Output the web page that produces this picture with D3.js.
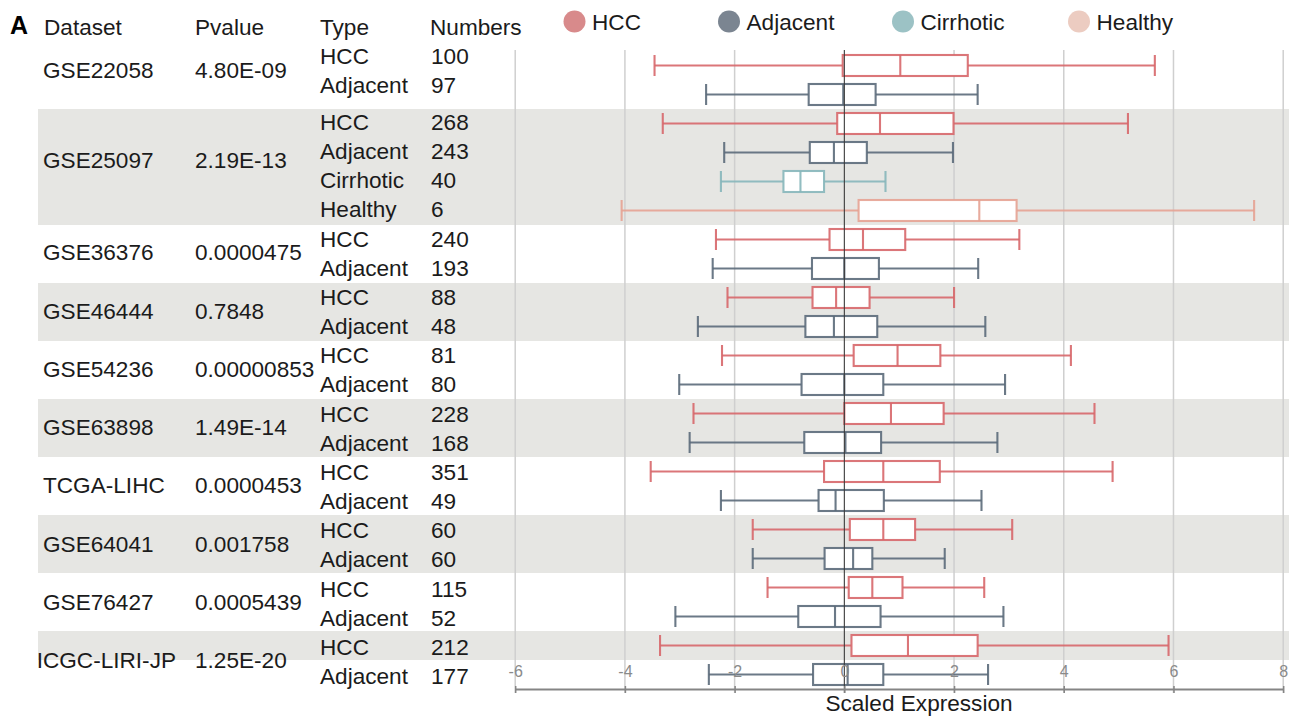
<!DOCTYPE html>
<html>
<head>
<meta charset="utf-8">
<script src="https://cdn.jsdelivr.net/npm/d3@7"></script>
<style>
  html, body { margin: 0; padding: 0; background: #fff; }
  svg { display: block; font-family: 'Liberation Sans', Arial, Helvetica, sans-serif; }
</style>
</head>
<body>
<svg id="chart" width="1289" height="717"></svg>
<script>
// ---- data ----
const datasets = ["GSE22058", "GSE25097", "GSE36376", "GSE46444", "GSE54236",
                  "GSE63898", "TCGA-LIHC", "GSE64041", "GSE76427", "ICGC-LIRI-JP"];
const pvalues = ["4.80E-09", "2.19E-13", "0.0000475", "0.7848", "0.00000853",
                 "1.49E-14", "0.0000453", "0.001758", "0.0005439", "1.25E-20"];
const groupTypes = [
  ["HCC", "Adjacent"],
  ["HCC", "Adjacent", "Cirrhotic", "Healthy"],
  ["HCC", "Adjacent"], ["HCC", "Adjacent"], ["HCC", "Adjacent"],
  ["HCC", "Adjacent"], ["HCC", "Adjacent"], ["HCC", "Adjacent"],
  ["HCC", "Adjacent"], ["HCC", "Adjacent"]
];
const sampleCounts = [
  [100, 97], [268, 243, 40, 6], [240, 193], [88, 48], [81, 80],
  [228, 168], [351, 49], [60, 60], [115, 52], [212, 177]
];
// box statistics, one entry per row (top to bottom)
const whiskerLow  = [-3.46, -2.52, -3.31, -2.19, -2.25, -4.06, -2.34, -2.40, -2.13, -2.67, -2.23,
                     -3.01, -2.75, -2.82, -3.53, -2.25, -1.67, -1.67, -1.40, -3.08, -3.36, -2.47];
const quartile1   = [-0.03, -0.65, -0.13, -0.63, -1.11,  0.26, -0.27, -0.59, -0.58, -0.71,  0.17,
                     -0.78,  0.00, -0.73, -0.37, -0.47,  0.10, -0.36,  0.08, -0.84,  0.13, -0.57];
const medians     = [ 1.02, -0.02,  0.65, -0.19, -0.80,  2.46,  0.34,  0.00, -0.15, -0.19,  0.97,
                      0.00,  0.85,  0.02,  0.71, -0.16,  0.71,  0.16,  0.51, -0.17,  1.16,  0.06];
const quartile3   = [ 2.25,  0.57,  1.99,  0.41, -0.37,  3.14,  1.11,  0.63,  0.46,  0.60,  1.75,
                      0.71,  1.81,  0.67,  1.74,  0.72,  1.29,  0.51,  1.06,  0.66,  2.43,  0.71];
const whiskerHigh = [ 5.66,  2.43,  5.17,  1.98,  0.75,  7.47,  3.19,  2.44,  2.00,  2.57,  4.13,
                      2.93,  4.56,  2.79,  4.89,  2.50,  3.06,  1.83,  2.55,  2.90,  5.91,  2.62];
const legendTypes = ["HCC", "Adjacent", "Cirrhotic", "Healthy"];
const xTicks = [-6, -4, -2, 0, 2, 4, 6, 8];
const headers = ["Dataset", "Pvalue", "Type", "Numbers"];

// ---- styles ----
const strokeColor = { HCC: "#d7676a", Adjacent: "#5b6a7a", Cirrhotic: "#86b6ba", Healthy: "#e5a292" };
const legendColor = { HCC: "#d88a8b", Adjacent: "#7b8591", Cirrhotic: "#9cc2c5", Healthy: "#ecccc1" };
const bandColor = "#e6e6e3";
const textColor = "#1b1b1b";
const fontSize = 22.6;

// ---- layout ----
const W = 1289;
const colX = { dataset: 43, pvalue: 195, type: 320, number: 431 };
const legendX = [574.5, 729, 903, 1079];
const plotTop = 50, plotBottom = 693, axisY = 689, bandClip = 660;
const boxH = 21, rowHalf = 14.5;

const rows = [];
groupTypes.forEach((types, g) => types.forEach((t, k) => rows.push({ g, type: t, n: sampleCounts[g][k] })));
rows.forEach((r, i) => {
  r.i = i;
  r.low = whiskerLow[i]; r.q1 = quartile1[i]; r.med = medians[i];
  r.q3 = quartile3[i]; r.high = whiskerHigh[i];
});

const x = d3.scaleLinear().domain([-6, 8]).range([515.2, 1283.2]);
const yBox = d3.scaleLinear().domain([0, rows.length - 1]).range([65.5, 674.5]);
const yTextBase = d3.scaleLinear().domain([2, rows.length - 1]).range([130, 684]);
const yText = r => yTextBase(r.i) + (r.g === 0 ? -7.5 : 0);

const svg = d3.select("#chart");
svg.append("rect").attr("width", W).attr("height", 717).attr("fill", "#fff");

// alternating background bands per dataset
const groups = datasets.map((d, g) => {
  const members = rows.filter(r => r.g === g);
  return { g, name: d, p: pvalues[g], first: members[0].i, last: members[members.length - 1].i, members };
});
svg.append("g").selectAll("rect")
  .data(groups.filter(d => d.g % 2 === 1))
  .join("rect")
  .attr("x", 38)
  .attr("width", W - 38)
  .attr("y", d => yBox(d.first) - rowHalf)
  .attr("height", d => Math.min(yBox(d.last) + rowHalf, bandClip) - (yBox(d.first) - rowHalf))
  .attr("fill", bandColor);

// vertical grid
svg.append("g").selectAll("line")
  .data(xTicks.filter(t => t !== 0))
  .join("line")
  .attr("x1", d => x(d)).attr("x2", d => x(d))
  .attr("y1", plotTop).attr("y2", plotBottom)
  .attr("stroke", "#cfcfcf").attr("stroke-width", 1.5);

// boxes
const boxG = svg.append("g").selectAll("g").data(rows).join("g")
  .attr("transform", d => `translate(0,${yBox(d.i)})`)
  .attr("stroke", d => strokeColor[d.type])
  .attr("stroke-width", 2.1)
  .attr("stroke-opacity", 0.9)
  .attr("fill", "none");
boxG.append("line").attr("x1", d => x(d.low)).attr("x2", d => x(d.q1));
boxG.append("line").attr("x1", d => x(d.q3)).attr("x2", d => x(d.high));
boxG.append("line").attr("x1", d => x(d.low)).attr("x2", d => x(d.low)).attr("y1", -boxH / 2).attr("y2", boxH / 2);
boxG.append("line").attr("x1", d => x(d.high)).attr("x2", d => x(d.high)).attr("y1", -boxH / 2).attr("y2", boxH / 2);
boxG.append("rect")
  .attr("x", d => x(d.q1)).attr("width", d => x(d.q3) - x(d.q1))
  .attr("y", -boxH / 2).attr("height", boxH)
  .attr("fill", "#fff");
boxG.append("line").attr("x1", d => x(d.med)).attr("x2", d => x(d.med)).attr("y1", -boxH / 2).attr("y2", boxH / 2);

// zero reference line
svg.append("line")
  .attr("x1", x(0)).attr("x2", x(0))
  .attr("y1", plotTop).attr("y2", plotBottom)
  .attr("stroke", "#3a3a3a").attr("stroke-width", 1.1);

// bottom axis (labels sit above the line)
const axis = svg.append("g")
  .attr("transform", `translate(0,${axisY})`)
  .call(d3.axisTop(x).tickValues(xTicks).tickFormat(d => String(d))
    .tickSize(3).tickSizeOuter(0).tickPadding(9));
axis.select(".domain").attr("stroke", "#858585").attr("stroke-width", 2);
axis.selectAll(".tick line").attr("y1", 4).attr("y2", -3).attr("stroke", "#858585").attr("stroke-width", 1.5);
axis.selectAll(".tick text")
  .attr("fill", "#8a8a8a")
  .attr("font-size", 16)
  .attr("font-family", "'Liberation Sans', Arial, sans-serif");

svg.append("text")
  .attr("x", 919).attr("y", 711)
  .attr("text-anchor", "middle")
  .attr("font-size", fontSize)
  .attr("fill", textColor)
  .text("Scaled Expression");

// table header
svg.append("text").attr("x", 10).attr("y", 34)
  .attr("font-size", 25).attr("font-weight", "bold").attr("fill", "#000").text("A");
const headerX = [44, 195, 320, 430];
svg.append("g").selectAll("text").data(headers).join("text")
  .attr("x", (d, i) => headerX[i]).attr("y", 35)
  .attr("font-size", fontSize).attr("fill", textColor)
  .text(d => d);

// legend
const leg = svg.append("g").selectAll("g").data(legendTypes).join("g")
  .attr("transform", (d, i) => `translate(${legendX[i]},21.5)`);
leg.append("circle").attr("r", 11).attr("fill", d => legendColor[d]);
leg.append("text").attr("x", 17.5).attr("y", 8.5)
  .attr("font-size", fontSize).attr("fill", textColor).text(d => d);

// dataset + p-value columns
const tableG = svg.append("g").attr("font-size", fontSize).attr("fill", textColor);
const labelY = d => d3.mean(d.members, yText) - (d.g === 1 ? 6 : 1);
tableG.selectAll("text.ds").data(groups).join("text")
  .attr("class", "ds")
  .attr("y", labelY)
  .text(d => d.name)
  .attr("x", function () { return Math.min(colX.dataset, 176 - this.getComputedTextLength()); });
tableG.selectAll("text.pv").data(groups).join("text")
  .attr("class", "pv")
  .attr("x", colX.pvalue).attr("y", labelY)
  .text(d => d.p);

// type + count columns
tableG.selectAll("text.tp").data(rows).join("text")
  .attr("class", "tp")
  .attr("x", colX.type).attr("y", yText)
  .text(d => d.type);
tableG.selectAll("text.nm").data(rows).join("text")
  .attr("class", "nm")
  .attr("x", colX.number).attr("y", yText)
  .text(d => d.n);
</script>
</body>
</html>
